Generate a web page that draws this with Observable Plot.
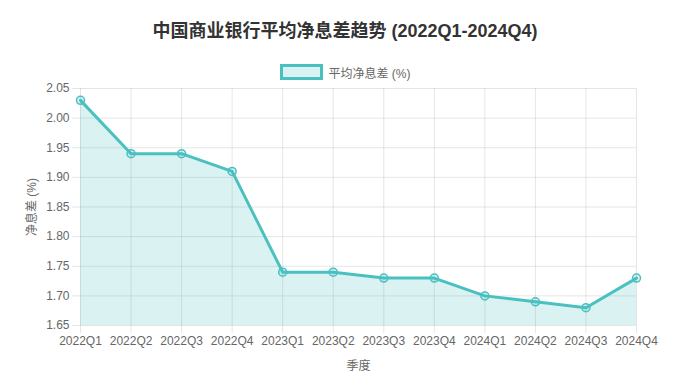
<!DOCTYPE html>
<html>
<head>
<meta charset="utf-8">
<script src="https://cdn.jsdelivr.net/npm/d3@7"></script>
<script src="https://cdn.jsdelivr.net/npm/@observablehq/plot@0.6"></script>
<style>
  html, body { margin: 0; padding: 0; background: #fff; }
  body { width: 690px; height: 371px; overflow: hidden; font-family: "Helvetica Neue", Helvetica, Arial, "Liberation Sans", "Noto Sans CJK SC", sans-serif; }
  #title { text-align: center; font-weight: bold; font-size: 18px; color: #333; line-height: 22px; padding-top: 20px; height: 22px; }
  #legend { margin-top: 22px; height: 16px; display: flex; justify-content: center; align-items: center; font-size: 12px; color: #666; }
  #legend .sw { width: 37px; height: 10px; border: 3px solid #4bc0c0; background: rgba(75,192,192,0.2); margin-right: 6px; box-sizing: content-box; }
  #chart svg { display: block; }
</style>
</head>
<body>
<div id="title"></div>
<div id="legend"><span class="sw"></span><span id="legendText"></span></div>
<div id="chart"></div>
<script>
const titleText = "中国商业银行平均净息差趋势 (2022Q1-2024Q4)";
const seriesName = "平均净息差 (%)";
const xTitle = "季度";
const yTitle = "净息差 (%)";
const quarters = ["2022Q1","2022Q2","2022Q3","2022Q4","2023Q1","2023Q2","2023Q3","2023Q4","2024Q1","2024Q2","2024Q3","2024Q4"];
const nim = [2.03, 1.94, 1.94, 1.91, 1.74, 1.74, 1.73, 1.73, 1.70, 1.69, 1.68, 1.73];
const yDomain = [1.65, 2.05];
const yTicks = [1.65, 1.70, 1.75, 1.80, 1.85, 1.90, 1.95, 2.00, 2.05];

document.getElementById("title").textContent = titleText;
document.getElementById("legendText").textContent = seriesName;

const data = quarters.map((q, i) => ({q, v: nim[i]}));
const lineColor = "rgb(75,192,192)";
const fillColor = "rgba(75,192,192,0.2)";

const chart = Plot.plot({
  width: 690,
  height: 291,
  marginTop: 8,
  marginBottom: 46,
  marginLeft: 80,
  marginRight: 54,
  style: {fontSize: "12px", fontFamily: "'Helvetica Neue', Helvetica, Arial, 'Liberation Sans', 'Noto Sans CJK SC', sans-serif", color: "#666", background: "#fff"},
  x: {type: "point", domain: quarters, padding: 0, round: false},
  y: {domain: yDomain},
  marks: [
    Plot.gridX(quarters, {stroke: "#000", strokeOpacity: 0.1}),
    Plot.gridY(yTicks, {stroke: "#000", strokeOpacity: 0.1}),
    Plot.areaY(data, {x: "q", y1: yDomain[0], y2: "v", fill: fillColor}),
    Plot.lineY(data, {x: "q", y: "v", stroke: lineColor, strokeWidth: 3}),
    Plot.dot(data, {x: "q", y: "v", r: 4, stroke: lineColor, strokeWidth: 1.5, fill: fillColor}),
    Plot.axisX(quarters, {tickSize: 8, tickPadding: 3, stroke: "#000", strokeOpacity: 0.1, fill: "#666", label: xTitle, labelAnchor: "center", labelArrow: "none", labelOffset: 44}),
    Plot.axisY(yTicks, {tickSize: 8, tickPadding: 3, stroke: "#000", strokeOpacity: 0.1, fill: "#666", tickFormat: d => d.toFixed(2), label: yTitle, labelAnchor: "center", labelArrow: "none", labelOffset: 53})
  ]
});
document.getElementById("chart").appendChild(chart);
</script>
</body>
</html>
